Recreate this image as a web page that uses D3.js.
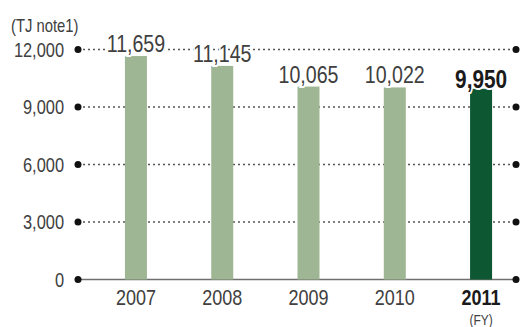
<!DOCTYPE html>
<html>
<head>
<meta charset="utf-8">
<script src="https://cdn.jsdelivr.net/npm/d3@7"></script>
<style>
  body { margin: 0; background: #fff; }
  svg { display: block; }
  text { font-family: "Liberation Sans", Arial, sans-serif; }
</style>
</head>
<body>
<svg id="chart" width="521" height="327"></svg>
<script>
// data
var years = ["2007", "2008", "2009", "2010", "2011"];
var values = [11659, 11145, 10065, 10022, 9950];
var yTicks = [0, 3000, 6000, 9000, 12000];
var unitLabel = "(TJ note1)";
var fyLabel = "(FY)";
var titleText = "Energy consumption";

var svg = d3.select("#chart");
var lightGreen = "#9fb694", darkGreen = "#0d5833", textCol = "#404040";
var narrow = 0.8;   // the print uses a condensed face

var x = d3.scaleBand().domain(years).range([93, 524]).paddingInner(0.745).paddingOuter(0.37),
    y = d3.scaleLinear().domain([0, 12000]).range([279.5, 49.5]);

var fmt = d3.format(",");

function place(px, py) {
    return "translate(" + px + "," + py + ") scale(" + narrow + ",1)";
}

// title, cut by the top edge
svg.append("text")
    .attr("transform", place(86, -6))
    .style("font-size", "22px")
    .style("font-weight", "bold")
    .attr("fill", "#111")
    .text(titleText);

svg.append("text")
    .attr("transform", place(11, 32))
    .style("font-size", "18.5px")
    .attr("fill", textCol)
    .text(unitLabel);

// grid lines
svg.append("g").selectAll("line")
    .data(yTicks.filter(function(d) { return d > 0; }))
    .enter().append("line")
    .attr("x1", 78).attr("x2", 516)
    .attr("y1", function(d) { return y(d); })
    .attr("y2", function(d) { return y(d); })
    .attr("stroke", "#555")
    .attr("stroke-width", 1.3)
    .attr("stroke-dasharray", "2,3");

svg.append("line")
    .attr("x1", 78).attr("x2", 516)
    .attr("y1", y(0)).attr("y2", y(0))
    .attr("stroke", "#6f6f6f")
    .attr("stroke-width", 1.6);

// dots at both ends
svg.append("g").selectAll("circle")
    .data(yTicks.concat(yTicks))
    .enter().append("circle")
    .attr("cx", function(d, i) { return i < yTicks.length ? 78 : 516; })
    .attr("cy", function(d) { return y(d); })
    .attr("r", 3.5)
    .attr("fill", "#111");

// y tick labels
svg.append("g").selectAll("text")
    .data(yTicks)
    .enter().append("text")
    .attr("transform", function(d) { return place(64, y(d) + 7); })
    .attr("text-anchor", "end")
    .style("font-size", "20.5px")
    .attr("fill", textCol)
    .text(function(d) { return fmt(d); });

// bars
svg.append("g").selectAll("rect")
    .data(values)
    .enter().append("rect")
    .attr("x", function(d, i) { return x(years[i]); })
    .attr("y", function(d) { return y(d); })
    .attr("width", x.bandwidth())
    .attr("height", function(d) { return y(0) - y(d); })
    .attr("fill", function(d, i) { return i == years.length - 1 ? darkGreen : lightGreen; });

// value labels (white halo hides the dotted line behind them)
svg.append("g").selectAll("text")
    .data(values)
    .enter().append("text")
    .attr("transform", function(d, i) {
        var last = i == years.length - 1;
        return place(x(years[i]) + x.bandwidth() / 2, y(d) - (last ? 1 : 4));
    })
    .attr("text-anchor", "middle")
    .style("font-size", function(d, i) { return i == years.length - 1 ? "26px" : "24.5px"; })
    .style("font-weight", function(d, i) { return i == years.length - 1 ? "bold" : "normal"; })
    .attr("fill", function(d, i) { return i == years.length - 1 ? "#1a1a1a" : textCol; })
    .attr("stroke", "#fff")
    .attr("stroke-width", 4)
    .attr("paint-order", "stroke")
    .text(function(d) { return fmt(d); });

// x labels
svg.append("g").selectAll("text")
    .data(years)
    .enter().append("text")
    .attr("transform", function(d) { return place(x(d) + x.bandwidth() / 2, 305); })
    .attr("text-anchor", "middle")
    .style("font-size", "22.5px")
    .style("font-weight", function(d, i) { return i == years.length - 1 ? "bold" : "normal"; })
    .attr("fill", function(d, i) { return i == years.length - 1 ? "#1a1a1a" : textCol; })
    .text(function(d) { return d; });

svg.append("text")
    .attr("transform", place(x(years[years.length - 1]) + x.bandwidth() / 2, 325))
    .attr("text-anchor", "middle")
    .style("font-size", "15px")
    .attr("fill", textCol)
    .text(fyLabel);
</script>
</body>
</html>
